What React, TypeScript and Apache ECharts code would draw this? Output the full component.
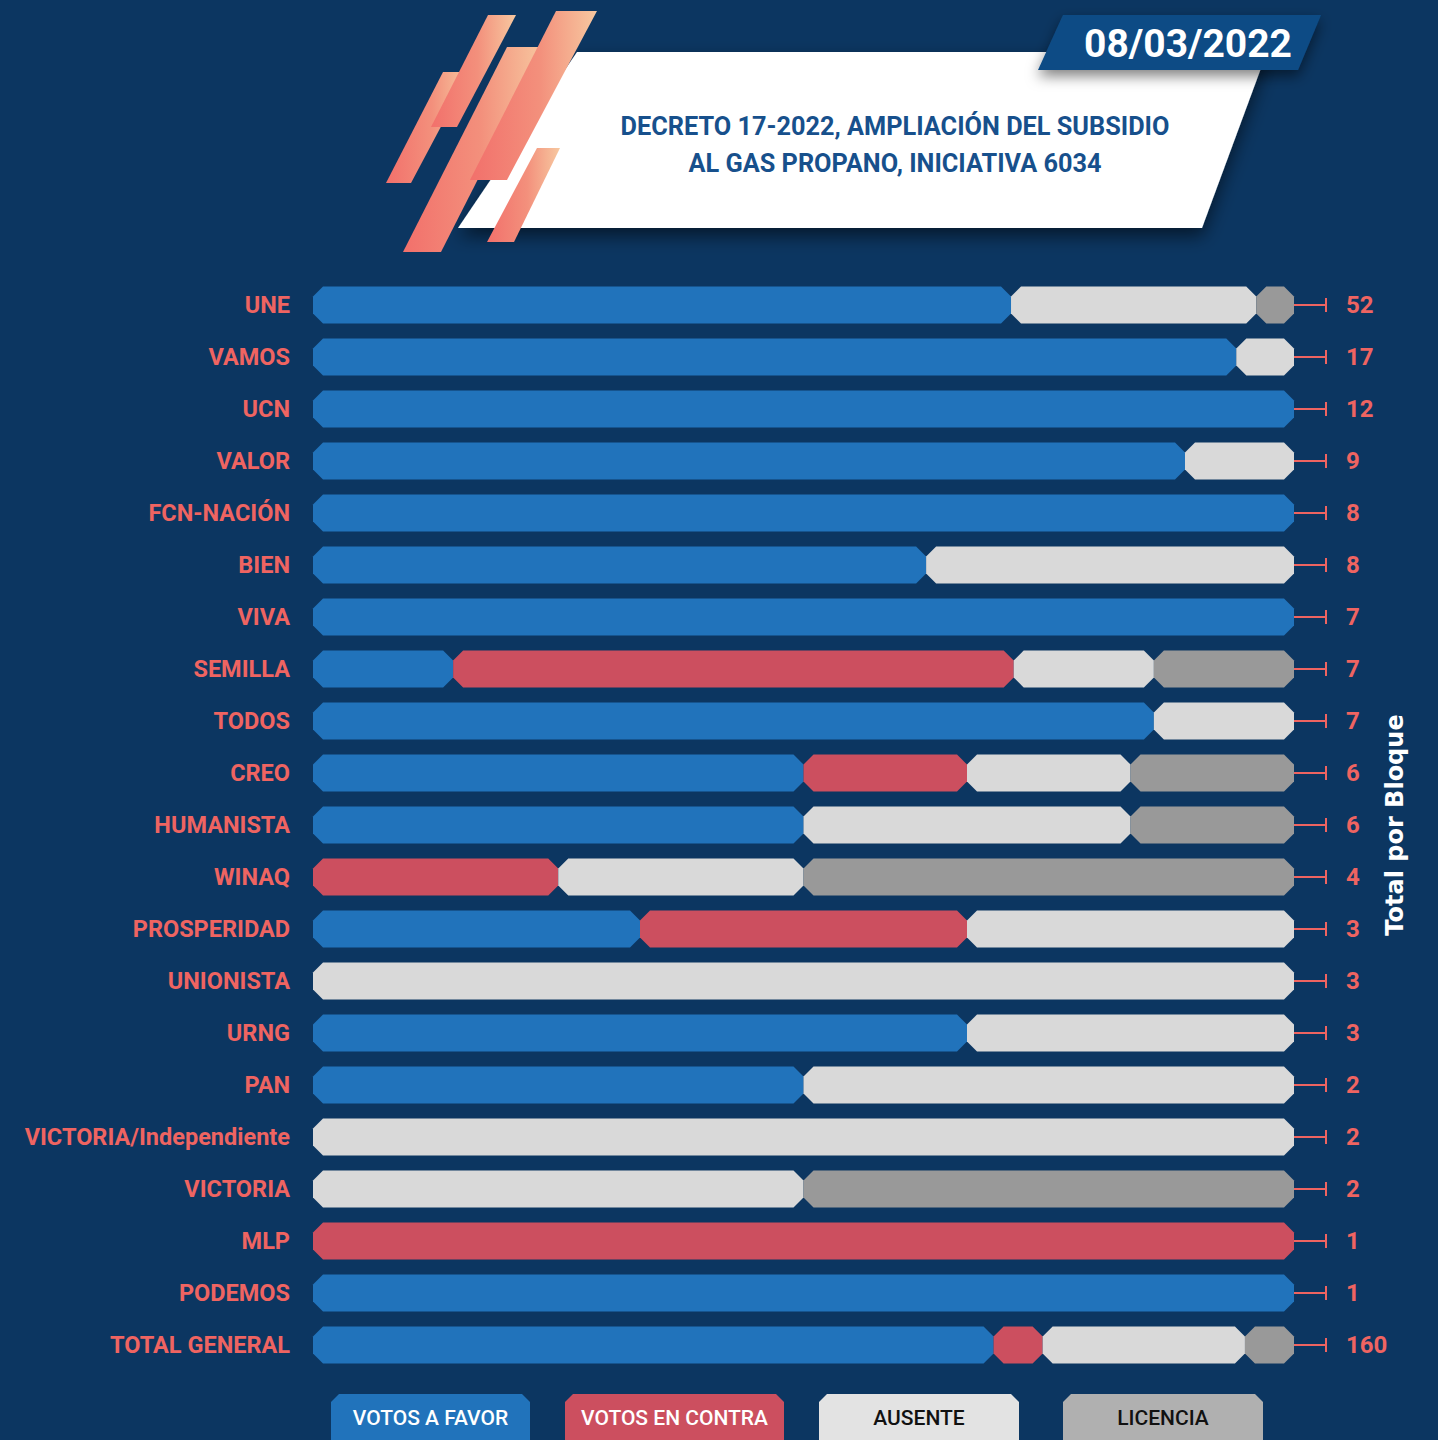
import React, { useEffect, useRef } from 'react';
import * as echarts from 'echarts';

const parties = [
  'UNE', 'VAMOS', 'UCN', 'VALOR', 'FCN-NACIÓN', 'BIEN', 'VIVA', 'SEMILLA', 'TODOS', 'CREO',
  'HUMANISTA', 'WINAQ', 'PROSPERIDAD', 'UNIONISTA', 'URNG', 'PAN', 'VICTORIA/Independiente',
  'VICTORIA', 'MLP', 'PODEMOS', 'TOTAL GENERAL',
];
const favor =    [37, 16, 12, 8, 8, 5, 7, 1, 6, 3, 3, 0, 1, 0, 2, 1, 0, 0, 0, 1, 111];
const contra =   [0, 0, 0, 0, 0, 0, 0, 4, 0, 1, 0, 1, 1, 0, 0, 0, 0, 0, 1, 0, 8];
const ausente =  [13, 1, 0, 1, 0, 3, 0, 1, 1, 1, 2, 1, 1, 3, 1, 1, 2, 1, 0, 0, 33];
const licencia = [2, 0, 0, 0, 0, 0, 0, 1, 0, 1, 1, 2, 0, 0, 0, 0, 0, 1, 0, 0, 8];

const seriesNames = ['VOTOS A FAVOR', 'VOTOS EN CONTRA', 'AUSENTE', 'LICENCIA'];
const barColors = ['#2173bb', '#cc4f5f', '#d9d9d9', '#999999'];
const legendColors = ['#2173bb', '#cc4f5f', '#e3e3e3', '#b0b0b0'];
const legendTextColors = ['#ffffff', '#ffffff', '#111111', '#111111'];

const titleLines = ['DECRETO 17-2022, AMPLIACIÓN DEL SUBSIDIO', 'AL GAS PROPANO, INICIATIVA 6034'];
const dateText = '08/03/2022';
const sideTitle = 'Total por Bloque';

const BG = '#0c3661';
const SALMON = '#ef6461';

export default function App() {
  const ref = useRef<HTMLDivElement>(null);

  useEffect(() => {
    document.body.style.margin = '0';
    const chart = echarts.init(ref.current!, null, { renderer: 'svg' });

    const totals = parties.map((_, i) => favor[i] + contra[i] + ausente[i] + licencia[i]);
    const groups = [favor, contra, ausente, licencia];
    const segData: number[][][] = groups.map(() => []);
    parties.forEach((_, i) => {
      let acc = 0;
      groups.forEach((g, k) => {
        if (g[i] > 0) {
          segData[k].push([acc / totals[i], (acc + g[i]) / totals[i], i]);
          acc += g[i];
        }
      });
    });

    const renderSeg = (color: string) => (params: any, api: any) => {
      const s = api.coord([api.value(0), api.value(2)]);
      const e = api.coord([api.value(1), api.value(2)]);
      const h = api.size([0, 1])[1] * 0.71;
      const c = 10;
      const y0 = s[1] - h / 2;
      const y1 = s[1] + h / 2;
      const x0 = s[0];
      const x1 = e[0];
      return {
        type: 'polygon',
        shape: {
          points: [
            [x0 + c, y0], [x1 - c, y0], [x1, y0 + c], [x1, y1 - c],
            [x1 - c, y1], [x0 + c, y1], [x0, y1 - c], [x0, y0 + c],
          ],
        },
        style: { fill: color },
      };
    };

    const series: any[] = seriesNames.map((name, k) => ({
      type: 'custom',
      name,
      renderItem: renderSeg(barColors[k]),
      encode: { x: [0, 1], y: 2 },
      data: segData[k],
      yAxisIndex: 0,
    }));

    series.push({
      type: 'custom',
      name: 'totals',
      yAxisIndex: 0,
      encode: { x: 0, y: 1 },
      data: parties.map((_, i) => [1, i]),
      renderItem: (params: any, api: any) => {
        const p = api.coord([api.value(0), api.value(1)]);
        return {
          type: 'group',
          children: [
            { type: 'line', shape: { x1: p[0], y1: p[1], x2: p[0] + 33, y2: p[1] }, style: { stroke: SALMON, lineWidth: 2 } },
            { type: 'line', shape: { x1: p[0] + 32, y1: p[1] - 7, x2: p[0] + 32, y2: p[1] + 7 }, style: { stroke: SALMON, lineWidth: 2 } },
          ],
        };
      },
    });

    const grad = () =>
      new echarts.graphic.LinearGradient(0, 0, 1, 0, [
        { offset: 0, color: '#f2706b' },
        { offset: 0.55, color: '#f3907c' },
        { offset: 1, color: '#f7c8a0' },
      ]);

    const stripes = [
      [[443, 72], [470, 72], [411, 183], [386, 183]],
      [[488, 15], [516, 15], [457, 127], [431, 127]],
      [[507, 47], [545, 47], [441, 252], [403, 252]],
      [[556, 11], [597, 11], [507, 180], [470, 180]],
      [[537, 148], [560, 148], [514, 242], [487, 242]],
    ];

    const legendBoxes = [
      [331, 530], [565, 784], [819, 1019], [1063, 1263],
    ];

    const graphic: any[] = [
      {
        type: 'polygon',
        shape: { points: [[577, 52], [1267, 52], [1202, 228], [458, 228]] },
        style: { fill: '#ffffff', shadowBlur: 18, shadowColor: 'rgba(0,0,0,0.55)', shadowOffsetY: 8 },
        z: 1,
      },
      ...stripes.map((pts) => ({
        type: 'polygon',
        shape: { points: pts },
        style: { fill: grad() },
        z: 2,
      })),
      {
        type: 'polygon',
        shape: { points: [[1063, 15], [1321, 15], [1298, 70], [1038, 70]] },
        style: { fill: '#0f4c85', shadowBlur: 14, shadowColor: 'rgba(0,0,0,0.5)', shadowOffsetY: 6 },
        z: 3,
      },
      {
        type: 'text',
        x: 1188,
        y: 44,
        z: 4,
        style: {
          text: dateText, fill: '#ffffff', fontFamily: 'Roboto', fontWeight: 'bold', fontSize: 39,
          align: 'center', verticalAlign: 'middle',
        },
      },
      ...titleLines.map((t, i) => ({
        type: 'text',
        x: 895,
        y: 126 + i * 37,
        z: 4,
        style: {
          text: t, fill: '#17508c', fontFamily: 'Roboto', fontWeight: 'bold', fontSize: 25.3,
          align: 'center', verticalAlign: 'middle',
        },
      })),
      {
        type: 'text',
        x: 1395,
        y: 825,
        rotation: Math.PI / 2,
        z: 4,
        style: {
          text: sideTitle, fill: '#ffffff', fontFamily: 'DejaVu Sans', fontWeight: 'bold', fontSize: 24,
          align: 'center', verticalAlign: 'middle',
        },
      },
      ...seriesNames.map((name, k) => {
        const [xa, xb] = legendBoxes[k];
        const c = 8;
        const yt = 1394;
        const yb = 1452;
        return {
          type: 'group',
          z: 4,
          children: [
            {
              type: 'polygon',
              shape: { points: [[xa + c, yt], [xb - c, yt], [xb, yt + c], [xb, yb], [xa, yb], [xa, yt + c]] },
              style: { fill: legendColors[k] },
            },
            {
              type: 'text',
              x: (xa + xb) / 2,
              y: 1418,
              style: {
                text: name, fill: legendTextColors[k], fontFamily: 'Roboto', fontWeight: 500, fontSize: 21,
                align: 'center', verticalAlign: 'middle',
              },
            },
          ],
        };
      }),
    ];

    chart.setOption({
      animation: false,
      backgroundColor: BG,
      grid: { left: 313, right: 144, top: 279, bottom: 69 },
      xAxis: {
        type: 'value', min: 0, max: 1, show: false, splitLine: { show: false },
      },
      yAxis: [
        {
          type: 'category',
          inverse: true,
          data: parties,
          axisLine: { show: false },
          axisTick: { show: false },
          axisLabel: {
            interval: 0, margin: 23, color: SALMON, fontFamily: 'Roboto', fontWeight: 'bold', fontSize: 23.5,
          },
        },
        {
          type: 'category',
          inverse: true,
          position: 'right',
          data: parties,
          axisLine: { show: false },
          axisTick: { show: false },
          axisLabel: {
            interval: 0, margin: 52, color: SALMON, fontFamily: 'Roboto', fontWeight: 'bold', fontSize: 24,
            align: 'left',
            formatter: (v: string, idx: number) => String(totals[idx]),
          },
        },
      ],
      series,
      graphic,
    });

    return () => chart.dispose();
  }, []);

  return <div ref={ref} style={{ width: 1438, height: 1440 }} />;
}
